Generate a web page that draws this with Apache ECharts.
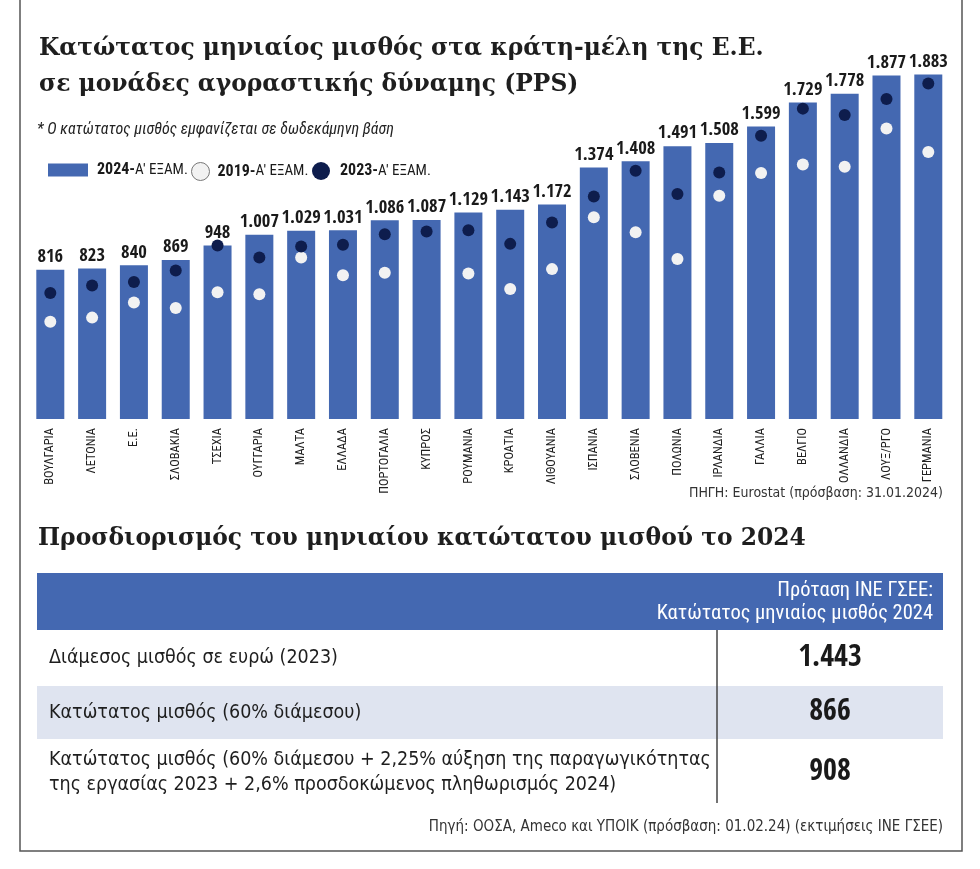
<!DOCTYPE html>
<html>
<head>
<meta charset="utf-8">
<script src="https://cdn.jsdelivr.net/npm/echarts@6/dist/echarts.min.js"></script>
<style>
html,body{margin:0;padding:0;background:#fff;}
#c{width:980px;height:869px;}
</style>
</head>
<body>
<div id="c"></div>
<script>
// ---- data ----
var countries = ['ΒΟΥΛΓΑΡΙΑ','ΛΕΤΟΝΙΑ','Ε.Ε.','ΣΛΟΒΑΚΙΑ','ΤΣΕΧΙΑ','ΟΥΓΓΑΡΙΑ','ΜΑΛΤΑ','ΕΛΛΑΔΑ','ΠΟΡΤΟΓΑΛΙΑ','ΚΥΠΡΟΣ','ΡΟΥΜΑΝΙΑ','ΚΡΟΑΤΙΑ','ΛΙΘΟΥΑΝΙΑ','ΙΣΠΑΝΙΑ','ΣΛΟΒΕΝΙΑ','ΠΟΛΩΝΙΑ','ΙΡΛΑΝΔΙΑ','ΓΑΛΛΙΑ','ΒΕΛΓΙΟ','ΟΛΛΑΝΔΙΑ','ΛΟΥΞ/ΡΓΟ','ΓΕΡΜΑΝΙΑ'];
var v2024 = [816,823,840,869,948,1007,1029,1031,1086,1087,1129,1143,1172,1374,1408,1491,1508,1599,1729,1778,1877,1883];
var v2023 = [688,729,748,811,948,882,943,952,1010,1025,1032,957,1074,1216,1357,1229,1347,1548,1696,1661,1749,1833];
var v2019 = [532,554,636,606,693,682,882,786,799,null,795,711,819,1103,1021,874,1220,1344,1391,1379,1588,1459];
var seriesNames = ['2024-Α\' ΕΞΑΜ.','2019-Α\' ΕΞΑΜ.','2023-Α\' ΕΞΑΜ.'];

var tableHeader = ['Πρόταση ΙΝΕ ΓΣΕΕ:','Κατώτατος μηνιαίος μισθός 2024'];
var tableLabels = [
  ['Διάμεσος μισθός σε ευρώ (2023)'],
  ['Κατώτατος μισθός (60% διάμεσου)'],
  ['Κατώτατος μισθός (60% διάμεσου + 2,25% αύξηση της παραγωγικότητας','της εργασίας 2023 + 2,6% προσδοκώμενος πληθωρισμός 2024)']
];
var tableValues = [1443, 866, 908];

// ---- styles ----
var BLUE = '#4468b1', DARK = '#0e1d4d', LIGHT = '#f2f2f2', BAND = '#dfe4f0';
var TITLE_FONT = '"DejaVu Serif",serif';
var COND = '"DejaVu Sans Condensed","DejaVu Sans",sans-serif';
var RC = '"Roboto Condensed","DejaVu Sans Condensed",sans-serif';
var OSC = '"Open Sans Condensed","Roboto Condensed",sans-serif';

function fmt(n){ return String(n).replace(/\B(?=(\d{3})+(?!\d))/g, '.'); }

var chart = echarts.init(document.getElementById('c'), null, {renderer:'canvas'});

function legendRich(){
  return {
    a:{fontFamily:RC,fontWeight:'bold',fontSize:16,color:'#1a1a1a'},
    b:{fontFamily:RC,fontSize:15,color:'#1a1a1a'}
  };
}
function legendFmt(name){ var i = name.indexOf('-'); return '{a|' + name.slice(0,i+1) + '}{b|' + name.slice(i+1) + '}'; }

var g = [];
// frame
g.push({type:'polyline', shape:{points:[[20,0],[20,851],[962,851],[962,0]]}, style:{stroke:'#555',lineWidth:1.5,fill:null}});
// titles
g.push({type:'text', left:39, top:31, style:{text:'Κατώτατος μηνιαίος μισθός στα κράτη-μέλη της Ε.Ε.\nσε μονάδες αγοραστικής δύναμης (PPS)', font:'bold 23.4px '+TITLE_FONT, fill:'#1e1e1e', lineHeight:36}});
g.push({type:'text', left:37, top:122, style:{text:'* Ο κατώτατος μισθός εμφανίζεται σε δωδεκάμηνη βάση', font:'italic 16px '+RC, fill:'#222'}});
g.push({type:'text', right:37, top:486, style:{text:'ΠΗΓΗ: Eurostat (πρόσβαση: 31.01.2024)', font:'14px '+COND, fill:'#333', align:'right'}});
g.push({type:'text', left:38, top:527, style:{text:'Προσδιορισμός του μηνιαίου κατώτατου μισθού το 2024', font:'bold 23.4px '+TITLE_FONT, fill:'#1e1e1e'}});
// table header
var TX = 37, TW = 906, HEADY = 573, HEADH = 57, COLX = 717;
g.push({type:'rect', shape:{x:TX,y:HEADY,width:TW,height:HEADH}, style:{fill:BLUE}});
g.push({type:'text', x:TX+TW-10, y:HEADY+6, style:{text:tableHeader.join('\n'), font:'20.5px '+RC, fill:'#fff', align:'right', lineHeight:23}});
// rows
var rowTop = [630, 686, 739], rowH = [56, 53, 66];
g.push({type:'rect', shape:{x:TX,y:rowTop[1],width:TW,height:rowH[1]}, style:{fill:BAND}});
g.push({type:'line', shape:{x1:COLX,y1:HEADY+HEADH,x2:COLX,y2:803}, style:{stroke:'#444',lineWidth:1.5}});
tableLabels.forEach(function(lines, i){
  var cy = rowTop[i] + rowH[i]/2;
  g.push({type:'text', x:49, y:cy, style:{text:lines.join('\n'), font:'19.5px '+COND, fill:'#1e1e1e', verticalAlign:'middle', lineHeight:25}});
  g.push({type:'text', x:830, y:cy, style:{text:fmt(tableValues[i]), font:'bold 30px '+OSC, fill:'#1a1a1a', align:'center', verticalAlign:'middle'}});
});
g.push({type:'text', right:37, top:820, style:{text:'Πηγή: ΟΟΣΑ, Ameco και ΥΠΟΙΚ (πρόσβαση: 01.02.24) (εκτιμήσεις ΙΝΕ ΓΣΕΕ)', font:'15px '+COND, fill:'#333', align:'right'}});

var option = {
  animation:false,
  backgroundColor:'#fff',
  grid:{left:29.4, right:30.8, top:53, bottom:450, containLabel:false},
  legend:[
    {left:43, top:157, itemWidth:40, itemHeight:13, icon:'rect', data:[seriesNames[0]], formatter:legendFmt, textStyle:{rich:legendRich(), padding:[0,0,0,4]}, selectedMode:false},
    {left:186, top:157, itemWidth:18, itemHeight:18, icon:'circle', data:[{name:seriesNames[1], itemStyle:{color:LIGHT, borderColor:'#777', borderWidth:1}}], formatter:legendFmt, textStyle:{rich:legendRich(), padding:[0,0,0,3]}, selectedMode:false},
    {left:307, top:157, itemWidth:18, itemHeight:18, icon:'circle', data:[seriesNames[2]], formatter:legendFmt, textStyle:{rich:legendRich(), padding:[0,0,0,5]}, selectedMode:false}
  ],
  xAxis:{type:'category', data:countries, axisLine:{show:false}, axisTick:{show:false},
    axisLabel:{rotate:90, interval:0, margin:9, fontFamily:RC, fontSize:12.5, color:'#222'}},
  yAxis:{type:'value', min:0, max:2000, show:false, splitLine:{show:false}},
  series:[
    {name:seriesNames[0], type:'bar', data:v2024, barWidth:28, itemStyle:{color:BLUE},
      label:{show:true, position:'top', distance:3, formatter:function(p){return fmt(p.value);}, fontFamily:OSC, fontWeight:'bold', fontSize:18.5, color:'#1a1a1a'}},
    {name:seriesNames[1], type:'scatter', data:v2019, symbolSize:12, itemStyle:{color:LIGHT, opacity:1}, z:3},
    {name:seriesNames[2], type:'scatter', data:v2023, symbolSize:12, itemStyle:{color:DARK, opacity:1}, z:4}
  ],
  graphic:g
};
chart.setOption(option);
</script>
</body>
</html>
